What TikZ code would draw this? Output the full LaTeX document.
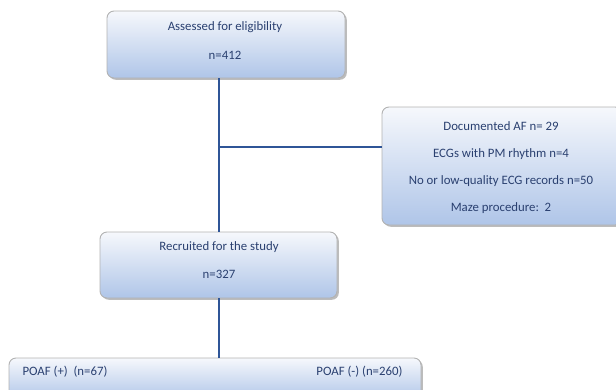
\documentclass[tikz,border=0pt]{standalone}
\usepackage{fontspec}
\setmainfont{Carlito}
\usetikzlibrary{shadows}
\definecolor{txt}{HTML}{2A4070}
\definecolor{ln}{HTML}{2F5597}
\definecolor{boxbot}{HTML}{AFC5E8}
\definecolor{boxtop}{HTML}{F6F8FC}
\begin{document}
\begin{tikzpicture}[x=1pt,y=-1pt,
  box/.style={rounded corners=7pt, top color=boxtop, bottom color=boxbot, draw=gray!60, line width=0.9pt,
     drop shadow={shadow xshift=1.8pt, shadow yshift=-1.8pt, fill=gray!75, opacity=0.7}},
  lbl/.style={text=txt, font=\fontsize{12.8}{15}\selectfont, anchor=center},
  conn/.style={draw=ln, line width=2.4pt}]
\useasboundingbox (0,0) rectangle (616,389);
\path[box] (107,11) rectangle (345,78);
\node[coordinate] (a) at (219,78) {};
\node[lbl] (t1) at (225,27) {Assessed for eligibility};
\node[lbl] (t2) at (225,55) {n=412};
\path[box] (382,107) rectangle (622,225);
\node[coordinate] (ex) at (382,147) {};
\node[lbl] (e1) at (501,126) {Documented AF n= 29};
\node[lbl] (e2) at (501,154) {ECGs with PM rhythm n=4};
\node[lbl] (e3) at (501,181) {No or low-quality ECG records n=50};
\node[lbl] (e4) at (501,208) {Maze procedure:\ \ 2};
\path[box] (100,232) rectangle (337,298);
\node[coordinate] (b) at (219,232) {};
\node[coordinate] (b2) at (219,298) {};
\node[lbl] (r1) at (219,247) {Recruited for the study};
\node[lbl] (r2) at (219,274) {n=327};
\path[box] (9,358) rectangle (421,400);
\node[coordinate] (c) at (219,358) {};
\node[lbl, anchor=west] (p1) at (19,372) {POAF (+)\ \ (n=67)};
\node[lbl, anchor=east] (p2) at (406,372) {POAF (-) (n=260)};
\coordinate (j) at (219,147);
\draw[conn] (a) -- (b);
\draw[conn] (j) -- (ex);
\draw[conn] (b2) -- (c);
\end{tikzpicture}
\end{document}
